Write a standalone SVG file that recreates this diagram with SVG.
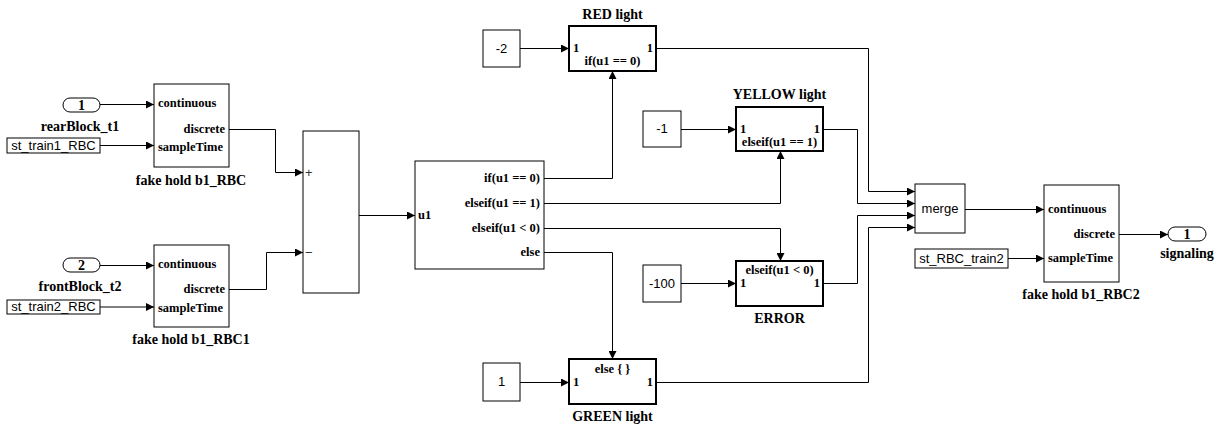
<svg xmlns="http://www.w3.org/2000/svg" width="1221" height="426" viewBox="0 0 1221 426">
<defs>
<marker id="arr" viewBox="0 0 8 8" refX="8" refY="4" markerWidth="8" markerHeight="8" markerUnits="userSpaceOnUse" orient="auto"><path d="M0,0 L8,4 L0,8 z" fill="#000"/></marker>
<style>
.blk{fill:#fff;stroke:#000;stroke-width:1}
.sub{fill:#fff;stroke:#000;stroke-width:2}
.ln{fill:none;stroke:#000;stroke-width:1;marker-end:url(#arr)}
.lbl{font-family:"Liberation Serif","Times New Roman",serif;font-weight:bold;font-size:14px;text-anchor:middle;fill:#000}
.port{font-family:"Liberation Serif","Times New Roman",serif;font-weight:bold;font-size:12.5px;fill:#000}
.num{font-family:"Liberation Serif","Times New Roman",serif;font-weight:bold;font-size:14px;text-anchor:middle;fill:#000}
.sans{font-family:"Liberation Sans",Arial,sans-serif;font-size:13px;text-anchor:middle;fill:#000}
.sign{font-family:"Liberation Sans",Arial,sans-serif;font-size:13px;fill:#333}
.mid{text-anchor:middle}
.end{text-anchor:end}
</style>
</defs>
<rect width="1221" height="426" fill="#fff"/>

<g id="in1">
<rect class="blk" x="63" y="98" width="37" height="14" rx="7"/>
<text class="num" x="81.5" y="110">1</text>
<text class="lbl" x="80" y="131">rearBlock_t1</text>
</g>
<g id="st_train1_RBC">
<rect class="blk" x="7" y="138" width="93" height="15"/>
<text class="sans" x="53.5" y="150">st_train1_RBC</text>
</g>
<g id="fakehold1">
<rect class="blk" x="154" y="84" width="75" height="83"/>
<text class="port" x="158" y="107">continuous</text>
<text class="port end" x="225" y="133">discrete</text>
<text class="port" x="158" y="151">sampleTime</text>
<text class="lbl" x="191" y="185">fake hold b1_RBC</text>
</g>

<g id="in2">
<rect class="blk" x="63" y="258" width="37" height="14" rx="7"/>
<text class="num" x="81.5" y="270">2</text>
<text class="lbl" x="80" y="291">frontBlock_t2</text>
</g>
<g id="st_train2_RBC">
<rect class="blk" x="7" y="300" width="93" height="14"/>
<text class="sans" x="53.5" y="311">st_train2_RBC</text>
</g>
<g id="fakehold2">
<rect class="blk" x="154" y="245" width="75" height="82"/>
<text class="port" x="158" y="268">continuous</text>
<text class="port end" x="225" y="293">discrete</text>
<text class="port" x="158" y="312">sampleTime</text>
<text class="lbl" x="191" y="344">fake hold b1_RBC1</text>
</g>

<g id="sum">
<rect class="blk" x="303" y="131" width="56" height="162"/>
<text class="sign" x="305" y="177">+</text>
<text class="sign" x="305" y="257">−</text>
</g>

<g id="ifblock">
<rect class="blk" x="415" y="161" width="129" height="108"/>
<text class="port" x="418" y="219">u1</text>
<text class="port end" x="540" y="182">if(u1 == 0)</text>
<text class="port end" x="540" y="207">elseif(u1 == 1)</text>
<text class="port end" x="540" y="232">elseif(u1 &lt; 0)</text>
<text class="port end" x="540" y="256">else</text>
</g>

<g id="const_m2">
<rect class="blk" x="483" y="30" width="37" height="37"/>
<text class="sans" x="501.5" y="53">-2</text>
</g>
<g id="red">
<rect class="sub" x="569" y="26" width="87" height="45"/>
<text class="port" x="573" y="52">1</text>
<text class="port end" x="653" y="52">1</text>
<text class="port mid" x="612.5" y="65">if(u1 == 0)</text>
<text class="lbl" x="612.5" y="19">RED light</text>
</g>

<g id="const_m1">
<rect class="blk" x="643" y="111" width="38" height="36"/>
<text class="sans" x="662" y="133">-1</text>
</g>
<g id="yellow">
<rect class="sub" x="736" y="107" width="87" height="44"/>
<text class="port" x="740" y="133">1</text>
<text class="port end" x="820" y="133">1</text>
<text class="port mid" x="779.5" y="146">elseif(u1 == 1)</text>
<text class="lbl" x="779.5" y="99">YELLOW light</text>
</g>

<g id="const_m100">
<rect class="blk" x="643" y="265" width="38" height="37"/>
<text class="sans" x="662" y="288">-100</text>
</g>
<g id="error">
<rect class="sub" x="736" y="261" width="87" height="45"/>
<text class="port mid" x="779.5" y="274">elseif(u1 &lt; 0)</text>
<text class="port" x="740" y="287">1</text>
<text class="port end" x="820" y="287">1</text>
<text class="lbl" x="779.5" y="323">ERROR</text>
</g>

<g id="const_1">
<rect class="blk" x="483" y="363" width="37" height="38"/>
<text class="sans" x="501.5" y="386">1</text>
</g>
<g id="green">
<rect class="sub" x="569" y="359" width="87" height="45"/>
<text class="port mid" x="612.5" y="373">else { }</text>
<text class="port" x="573" y="386">1</text>
<text class="port end" x="653" y="386">1</text>
<text class="lbl" x="612.5" y="421">GREEN light</text>
</g>

<g id="merge">
<rect class="blk" x="915" y="184" width="50" height="49"/>
<text class="sans" x="940" y="213">merge</text>
</g>

<g id="st_RBC_train2">
<rect class="blk" x="915" y="249" width="93" height="19"/>
<text class="sans" x="961.5" y="263">st_RBC_train2</text>
</g>
<g id="fakehold3">
<rect class="blk" x="1044" y="185" width="75" height="97"/>
<text class="port" x="1048" y="213">continuous</text>
<text class="port end" x="1115" y="238">discrete</text>
<text class="port" x="1048" y="262">sampleTime</text>
<text class="lbl" x="1081" y="299">fake hold b1_RBC2</text>
</g>

<g id="out1">
<rect class="blk" x="1168" y="227" width="38" height="14" rx="7"/>
<text class="num" x="1187" y="239">1</text>
<text class="lbl" x="1187" y="258">signaling</text>
</g>

<g id="connectors">
<path class="ln" d="M100,104.5 H154"/>
<path class="ln" d="M100,145.5 H154"/>
<path class="ln" d="M229,129.5 H275.5 V172.5 H303"/>
<path class="ln" d="M100,265.5 H154"/>
<path class="ln" d="M100,307 H154"/>
<path class="ln" d="M229,289.5 H266.5 V252.5 H303"/>
<path class="ln" d="M359,215.5 H415"/>
<path class="ln" d="M520,48.5 H569"/>
<path class="ln" d="M681,129.5 H736"/>
<path class="ln" d="M681,283.5 H736"/>
<path class="ln" d="M520,382.5 H569"/>
<path class="ln" d="M544,178.5 H612.5 V71"/>
<path class="ln" d="M544,203.5 H780.5 V151"/>
<path class="ln" d="M544,228.5 H780.5 V261"/>
<path class="ln" d="M544,252.5 H612.5 V359"/>
<path class="ln" d="M656,48.5 H868.5 V191.5 H915"/>
<path class="ln" d="M823,129.5 H857.5 V203.5 H915"/>
<path class="ln" d="M823,283.5 H857.5 V215.5 H915"/>
<path class="ln" d="M656,382.5 H868.5 V227.5 H915"/>
<path class="ln" d="M965,209.5 H1044"/>
<path class="ln" d="M1008,258.5 H1044"/>
<path class="ln" d="M1119,234.5 H1168"/>
</g>
</svg>
